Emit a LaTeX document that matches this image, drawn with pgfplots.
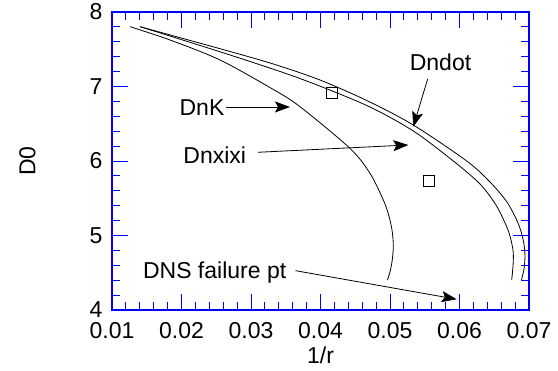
\documentclass[border=0pt]{standalone}
\usepackage{fontspec}
\setmainfont{Liberation Sans}
\usepackage{pgfplots}
\pgfplotsset{compat=1.18}
\usepackage{pgfplotstable}
\usetikzlibrary{arrows.meta}

\newcommand\lbl{\fontsize{23}{27}\selectfont}

% D0 against 1/r for the three stability criteria
\pgfplotstableread{
x y
0.01403 7.803
0.02698 7.470
0.03345 7.295
0.03993 7.087
0.04665 6.812
0.05335 6.483
0.06104 6.000
0.06439 5.718
0.06679 5.454
0.06823 5.208
0.06892 5.034
0.06932 4.859
0.06942 4.725
0.06931 4.564
0.06892 4.403
}\dndot

\pgfplotstableread{
x y
0.01403 7.803
0.02698 7.423
0.03705 7.107
0.04665 6.745
0.05335 6.403
0.05911 6.000
0.06295 5.691
0.06525 5.409
0.06679 5.118
0.06741 4.940
0.06774 4.765
0.06770 4.591
0.06751 4.403
}\dnxixi

\pgfplotstableread{
x y
0.01259 7.803
0.01835 7.624
0.02554 7.356
0.03317 6.962
0.03705 6.729
0.04424 6.170
0.04712 5.835
0.04904 5.477
0.04981 5.275
0.05029 5.074
0.05048 4.872
0.05036 4.698
0.05007 4.537
0.04964 4.403
}\dnk

\begin{document}
\begin{tikzpicture}
\begin{axis}[
  at={(0pt,0pt)}, anchor=south west,
  scale only axis, width=417pt, height=298pt,
  xmin=0.01, xmax=0.07, ymin=4, ymax=8,
  scaled x ticks=false,
  xtick={0.01,0.02,0.03,0.04,0.05,0.06,0.07},
  xticklabels={0.01,0.02,0.03,0.04,0.05,0.06,0.07},
  ytick={4,5,6,7,8},
  minor x tick num=4, minor y tick num=4,
  tick align=inside, xtick pos=both, ytick pos=both,
  major tick length=16pt, minor tick length=8pt,
  tick style={blue, line width=0.9pt},
  axis line style={blue, line width=1.3pt},
  /pgf/number format/assume math mode=true,
  tick label style={font=\lbl},
  label style={font=\lbl},
  xticklabel style={yshift=-9pt},
  yticklabel style={xshift=-6pt},
  xlabel={1/r}, ylabel={D0},
  xlabel style={at={(axis description cs:0.5,-0.151)}, anchor=center},
  ylabel style={at={(axis description cs:-0.2026,0.5)}, anchor=center},
]
\addplot[black, line width=0.8pt, smooth] table {\dndot};
\addplot[black, line width=0.8pt, smooth] table {\dnxixi};
\addplot[black, line width=0.8pt, smooth] table {\dnk};

% DNS points
\addplot[only marks, mark=square, mark size=5.5pt,
  mark options={black, line width=0.8pt, fill=white}]
  coordinates {(0.04161,6.909) (0.05561,5.732)};

\tikzset{ann/.style={line width=0.8pt, -{Stealth[length=15pt,width=11pt,inset=3pt]}}}
\node[anchor=base, font=\lbl, inner sep=0pt] at (axis cs:0.05727,7.212) {Dndot};
\draw[ann] (axis cs:0.05542,7.101) -- (axis cs:0.05335,6.460);

\node[anchor=base, font=\lbl, inner sep=0pt] at (axis cs:0.02295,6.604) {DnK};
\draw[ann] (axis cs:0.02640,6.725) -- (axis cs:0.03561,6.725);

\node[anchor=base, font=\lbl, inner sep=0pt] at (axis cs:0.02478,5.969) {Dnxixi};
\draw[ann] (axis cs:0.03100,6.117) -- (axis cs:0.05264,6.215);

\node[anchor=base west, font=\lbl, inner sep=0pt] at (axis cs:0.01444,4.425) {DNS failure pt};
\draw[ann] (axis cs:0.03640,4.528) -- (axis cs:0.0596,4.144);
\end{axis}
\pgfresetboundingbox
\path[use as bounding box] (-112pt,-61pt) rectangle (446pt,310pt);
\end{tikzpicture}
\end{document}
